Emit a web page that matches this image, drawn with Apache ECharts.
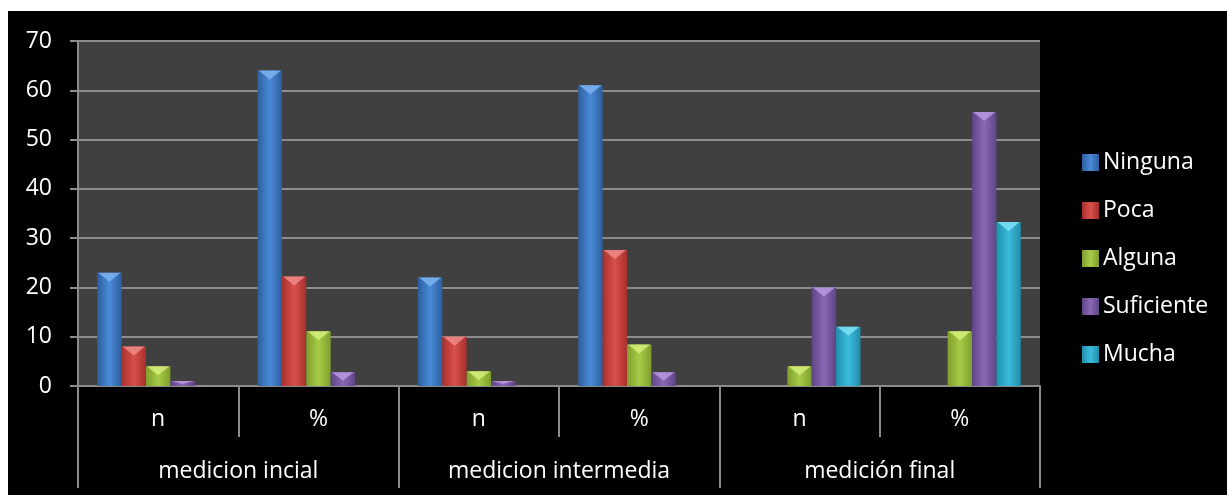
<!DOCTYPE html>
<html>
<head>
<meta charset="utf-8">
<script src="https://cdn.jsdelivr.net/npm/echarts@6/dist/echarts.min.js"></script>
<style>
  html, body { margin: 0; padding: 0; background: #fff; }
  #chart { position: absolute; left: 8px; top: 11px; width: 1219px; height: 484px; background: #000; }
</style>
</head>
<body>
<div id="chart"></div>
<script>
'use strict';

// categorias (dos niveles)
var subCats = ['n', '%', 'n', '%', 'n', '%'];
var groups = ['medicion incial', 'medicion intermedia', 'medición final'];
var seriesNames = ['Ninguna', 'Poca', 'Alguna', 'Suficiente', 'Mucha'];

// valores
var ninguna = [23, 64, 22, 61, 0, 0];
var poca = [8, 22.2, 10, 27.6, 0, 0];
var alguna = [4, 11.1, 3, 8.4, 4, 11.1];
var suficiente = [1, 2.8, 1, 2.8, 20, 55.6];
var mucha = [0, 0, 0, 0, 12, 33.3];

var yTicks = [0, 10, 20, 30, 40, 50, 60, 70];

var allData = [ninguna, poca, alguna, suficiente, mucha];
// [borde oscuro, centro claro, bisel superior]
var colors = [
	['#2c5f9e', '#4a8ad8', '#7db3ee'],
	['#a8302d', '#d9504c', '#ef8a87'],
	['#7f9e2c', '#a8cc48', '#d4ef7a'],
	['#5e4585', '#8a68b6', '#b99ae0'],
	['#1f8eab', '#3cbcdc', '#7fe0f5']
];

var catGap = 0.24;

var makeGrad = function(c){
	return new echarts.graphic.LinearGradient(0, 0, 1, 0, [
		{offset: 0, color: c[0]},
		{offset: 0.5, color: c[1]},
		{offset: 1, color: c[0]}
	]);
};

var font = '"Open Sans", Lato, sans-serif';
var gray = '#8c8c8c';

var series = seriesNames.map(function(name, i){
	return {
		name: name,
		type: 'bar',
		xAxisIndex: 0,
		barGap: '0%',
		barCategoryGap: (catGap * 100) + '%',
		itemStyle: {color: makeGrad(colors[i])},
		data: allData[i]
	};
});

// triangulo claro arriba de cada barra (efecto bisel)
seriesNames.forEach(function(name, i){
	series.push({
		type: 'custom',
		xAxisIndex: 0,
		silent: true,
		z: 3,
		renderItem: function(params, api){
			var v = api.value(1);
			if(!v) return null;
			var top = api.coord([api.value(0), v]);
			var base = api.coord([api.value(0), 0]);
			var bw = api.size([1, 0])[0] * (1 - catGap) / seriesNames.length;
			var x0 = top[0] + (i - (seriesNames.length - 1) / 2) * bw - bw / 2;
			var h = Math.min(9, (base[1] - top[1]) * 0.6);
			return {
				type: 'polygon',
				shape: {points: [[x0 + 1, top[1]], [x0 + bw - 1, top[1]], [x0 + bw / 2, top[1] + h]]},
				style: {fill: colors[i][2], opacity: 0.85}
			};
		},
		encode: {x: 0, y: 1},
		data: allData[i].map(function(v, k){ return [k, v]; })
	});
});

var option = {
	animation: false,
	backgroundColor: '#000',
	grid: {
		left: 70, top: 30, right: 187, bottom: 109,
		show: true, backgroundColor: '#404040', borderWidth: 0
	},
	legend: {
		orient: 'vertical',
		left: 1074,
		top: 140,
		padding: 0,
		itemWidth: 17,
		itemHeight: 17,
		itemGap: 25,
		icon: 'rect',
		textStyle: {color: '#fff', fontSize: 23, fontFamily: font, padding: [0, 0, 0, -1]},
		data: seriesNames
	},
	xAxis: [
		{
			type: 'category',
			data: subCats,
			position: 'bottom',
			axisLine: {show: true, lineStyle: {color: gray, width: 2}},
			axisTick: {show: true, interval: 0, length: 51, lineStyle: {color: gray, width: 2}},
			axisLabel: {interval: 0, margin: 22, color: '#fff', fontSize: 23, fontFamily: font}
		},
		{
			type: 'category',
			data: groups,
			position: 'bottom',
			axisLine: {show: false},
			axisTick: {show: true, interval: 0, length: 102, lineStyle: {color: gray, width: 2}},
			axisLabel: {interval: 0, margin: 74, color: '#fff', fontSize: 23, fontFamily: font}
		}
	],
	yAxis: {
		type: 'value',
		min: yTicks[0],
		max: yTicks[yTicks.length - 1],
		interval: 10,
		axisLine: {show: true, lineStyle: {color: gray, width: 2}},
		axisTick: {show: true, length: 8, lineStyle: {color: gray, width: 2}},
		axisLabel: {margin: 26, color: '#fff', fontSize: 23, fontFamily: font},
		splitLine: {show: true, lineStyle: {color: gray, width: 2}}
	},
	series: series
};

try{
	var myChart = echarts.init(document.getElementById('chart'));
	myChart.setOption(option);
}
catch(e){
	console.log(e);
}
</script>
</body>
</html>
